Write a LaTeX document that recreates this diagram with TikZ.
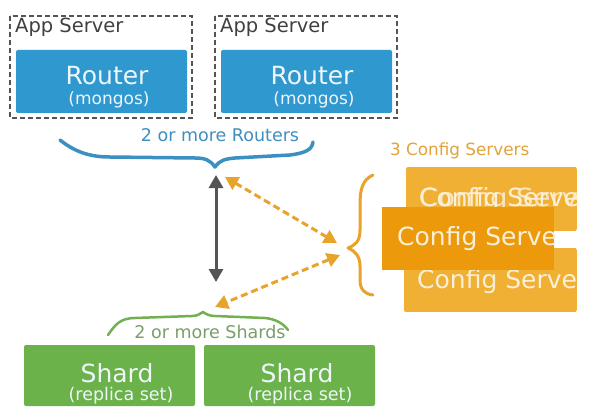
\documentclass[tikz,border=0pt]{standalone}
\usepackage{fontspec}
\setmainfont{DejaVu Sans}
\usetikzlibrary{arrows.meta}
\definecolor{boxblue}{HTML}{2F98CE}
\definecolor{lblblue}{HTML}{3F8FBF}
\definecolor{brblue}{HTML}{3A90C0}
\definecolor{oralight}{HTML}{F0B033}
\definecolor{oradark}{HTML}{EC9A0C}
\definecolor{oratext}{HTML}{E3A33A}
\definecolor{oraarrow}{HTML}{E9A22A}
\definecolor{boxgreen}{HTML}{6BB24A}
\definecolor{brgreen}{HTML}{72B050}
\definecolor{lblgreen}{HTML}{7A9E6A}
\definecolor{darkgray}{HTML}{555555}
\definecolor{apptext}{HTML}{404040}
\definecolor{boxtext}{HTML}{EEF6FB}
\definecolor{cfgtext}{HTML}{FCEFD8}
\newcommand{\fsz}[1]{\fontsize{#1}{#1}\selectfont}
\tikzset{
  appbox/.style={draw=darkgray, dash pattern=on 5pt off 3pt, line width=1.2pt},
  apptxt/.style={inner sep=0pt, anchor=base west, text=apptext},
  routerbox/.style={fill=boxblue, rounded corners=2pt},
  shardbox/.style={fill=boxgreen, rounded corners=2pt},
  cfgdark/.style={fill=oradark},
  bigtxt/.style={text=boxtext, inner sep=0pt, anchor=base},
  smalltxt/.style={text=boxtext, inner sep=0pt, anchor=base},
  cfgtxt/.style={text=cfgtext, inner sep=0pt, anchor=base west},
  lbl/.style={inner sep=0pt, anchor=base},
  dasharrow/.style={draw=oraarrow, line width=3pt, dash pattern=on 7pt off 4pt, {Triangle[length=13pt,width=14pt]}-{Triangle[length=13pt,width=14pt]}},
  bracepath/.style={line width=3.5pt, line cap=round, line join=round}
}
\begin{document}
\begin{tikzpicture}[x=1pt,y=-1pt]
\useasboundingbox (0,0) rectangle (591,417);
\fill[white] (0,0) rectangle (591,417);

% App servers
\draw[appbox] (10,16) rectangle (192,118);
\draw[appbox] (215,16) rectangle (397,118);
\node[apptxt] (app1) at (15,33) {\fsz{19.5}App Server};
\node[apptxt] (app2) at (220,33) {\fsz{19.5}App Server};

% Routers
\fill[routerbox] (16,50) rectangle (187,113);
\fill[routerbox] (221,50) rectangle (392,113);
\node[bigtxt] (r1) at (107,85) {\fsz{25}Router};
\node[smalltxt] (r1b) at (109,105) {\fsz{17}(mongos)};
\node[bigtxt] (r2) at (312,85) {\fsz{25}Router};
\node[smalltxt] (r2b) at (314,105) {\fsz{17}(mongos)};

% Routers label and brace
\node[lbl, text=lblblue] (rlbl) at (220,142) {\fsz{17.5}2 or more Routers};
\draw[bracepath, draw=brblue] (60,140) .. controls (75,152) and (90,157) .. (110,157)
  -- (195,158) .. controls (205,158) and (210,160) .. (215,167)
  .. controls (220,160) and (225,159) .. (235,158)
  -- (290,155) .. controls (305,153) and (312,150) .. (313,142);
\coordinate (rtip) at (215,167);

% Config servers
\node[lbl, text=oratext, anchor=base west] (clbl) at (390,155) {\fsz{16.8}3 Config Servers};
\begin{scope}
\clip[rounded corners=2pt] (406,167) rectangle (577,231);
\fill[oralight] (406,167) rectangle (577,231);
\node[cfgtxt] (c1) at (419,206) {\fsz{25}Config Server};
\node[cfgtxt, xscale=1.1, opacity=0.85] (c1b) at (419,206) {\fsz{25}Config Server};
\end{scope}
\begin{scope}
\clip[rounded corners=2pt] (404,248) rectangle (577,312);
\fill[oralight] (404,248) rectangle (577,312);
\node[cfgtxt] (c3) at (417,288) {\fsz{25}Config Server};
\end{scope}
\begin{scope}
\clip (382,207) rectangle (554,270);
\fill[cfgdark] (382,207) rectangle (554,270);
\node[cfgtxt] (c2) at (397,245) {\fsz{25}Config Server};
\end{scope}

% Orange brace
\draw[bracepath, draw=oraarrow, line width=3pt] (373,175) .. controls (362,180) and (360,190) .. (360,205)
  -- (360,230) .. controls (360,242) and (355,245) .. (348,248)
  .. controls (355,251) and (360,256) .. (360,266)
  -- (360,280) .. controls (360,290) and (365,294) .. (373,295);
\coordinate (ctip) at (348,248);

% Shards
\fill[shardbox] (24,345) rectangle (195,406);
\fill[shardbox] (204,345) rectangle (375,406);
\node[bigtxt] (s1) at (117,382) {\fsz{25}Shard};
\node[smalltxt] (s1b) at (121,400) {\fsz{17.5}(replica set)};
\node[bigtxt] (s2) at (297,382) {\fsz{25}Shard};
\node[smalltxt] (s2b) at (300,400) {\fsz{17.5}(replica set)};

% Shards label and brace
\node[lbl, text=lblgreen] (slbl) at (210,338) {\fsz{17.5}2 or more Shards};
\draw[bracepath, draw=brgreen, line width=2.5pt] (108,335) .. controls (115,325) and (120,318) .. (135,318)
  -- (192,316) .. controls (197,316) and (200,314) .. (203,312)
  .. controls (206,314) and (209,316) .. (215,316)
  -- (265,318) .. controls (275,319) and (283,323) .. (288,330);
\coordinate (stip) at (203,312);

% Arrows
\coordinate (gtop) at (216,175);
\coordinate (gbot) at (216,282);
\draw[draw=darkgray, line width=3pt, {Triangle[length=13pt,width=14pt]}-{Triangle[length=13pt,width=14pt]}] (gtop) -- (gbot);
\coordinate (a1s) at (225,177);
\coordinate (a1e) at (337,243);
\coordinate (a2s) at (340,255);
\coordinate (a2e) at (215,307);
\draw[dasharrow] (a1s) -- (a1e);
\draw[dasharrow] (a2s) -- (a2e);
\end{tikzpicture}
\end{document}
